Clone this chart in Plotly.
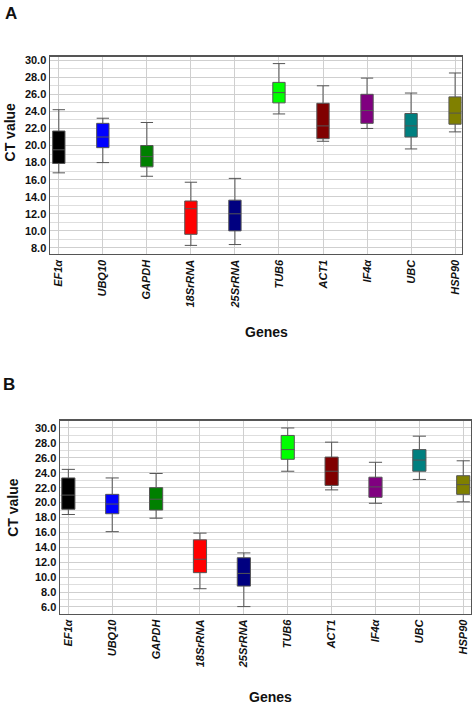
import plotly.graph_objects as go

genes = ["EF1α", "UBQ10", "GAPDH", "18SrRNA", "25SrRNA", "TUB6", "ACT1", "IF4α", "UBC", "HSP90"]
colors = ["#000000", "#0000FF", "#008000", "#FF0000", "#000080",
          "#00FF00", "#800000", "#800080", "#008080", "#808000"]

# Panel A
a_low = [16.8, 18.0, 16.4, 8.3, 8.4, 23.7, 20.5, 22.0, 19.6, 21.6]
a_q1 = [17.9, 19.75, 17.5, 9.6, 10.0, 25.0, 20.8, 22.6, 21.0, 22.5]
a_med = [19.5, 21.0, 18.7, 12.6, 12.0, 26.2, 22.3, 24.1, 22.3, 23.8]
a_q3 = [21.7, 22.6, 20.0, 13.5, 13.6, 27.4, 24.95, 26.0, 23.75, 25.7]
a_high = [24.2, 23.2, 22.7, 15.7, 16.15, 29.6, 27.0, 27.9, 26.15, 28.5]

# Panel B
b_low = [18.4, 16.1, 17.9, 8.45, 6.05, 24.2, 21.7, 19.9, 23.1, 20.1]
b_q1 = [19.1, 18.5, 19.0, 10.6, 8.8, 25.8, 22.3, 20.7, 24.2, 21.1]
b_med = [21.0, 19.8, 20.45, 12.4, 10.5, 27.1, 24.2, 22.1, 25.7, 22.4]
b_q3 = [23.3, 21.1, 22.0, 15.0, 12.6, 29.0, 26.1, 23.4, 27.1, 23.6]
b_high = [24.45, 23.3, 23.9, 15.9, 13.25, 30.0, 28.1, 25.4, 28.9, 25.6]

FONT = "Liberation Sans, Arial, sans-serif"
fig = go.Figure()

def add_panel(low, q1, med, q3, high, xa, ya, width):
    for g, c, lo, a, m, b, hi in zip(genes, colors, low, q1, med, q3, high):
        fig.add_trace(go.Box(
            x=[g], q1=[a], median=[m], q3=[b], lowerfence=[lo], upperfence=[hi],
            fillcolor=c, line=dict(color="#555555", width=1), width=width,
            whiskerwidth=1, boxpoints=False, showlegend=False,
            xaxis=xa, yaxis=ya, hoverinfo="skip"))

add_panel(a_low, a_q1, a_med, a_q3, a_high, "x", "y", 0.28)
add_panel(b_low, b_q1, b_med, b_q3, b_high, "x2", "y2", 0.30)

W, H = 474, 706

def fx(x):
    return x / W

def fy(y):
    return 1 - y / H

def xax(domain, rng):
    return dict(domain=domain, range=rng, type="category",
                categoryorder="array", categoryarray=genes,
                showgrid=True, gridcolor="#cfcfcf", gridwidth=1,
                showline=True, linecolor="#555555", linewidth=1.5, mirror=True,
                ticks="", tickangle=-90,
                tickfont=dict(family=FONT, size=11, color="#111", weight="bold", style="italic"),
                zeroline=False)

def yax(domain, rng):
    return dict(domain=domain, range=rng, dtick=2, tick0=0, tickformat=".1f",
                showgrid=True, gridcolor="#cfcfcf", gridwidth=1,
                minor=dict(dtick=1, showgrid=True, gridcolor="#dedede", gridwidth=1),
                showline=True, linecolor="#555555", linewidth=1.5, mirror=True,
                ticks="", tickfont=dict(family=FONT, size=11, color="#111", weight="bold"),
                zeroline=False)

fig.update_layout(
    width=W, height=H,
    margin=dict(l=0, r=0, t=0, b=0),
    paper_bgcolor="white", plot_bgcolor="white",
    boxmode="overlay",
    xaxis=xax([fx(50), fx(461.7)], [-0.2, 9.15]),
    yaxis=yax([fy(252), fy(54)], [7.3, 30.4]),
    xaxis2=xax([fx(60), fx(470.7)], [-0.19, 9.17]),
    yaxis2=yax([fy(613.3), fy(419.3)], [5.1, 31.0]),
)
fig.layout.xaxis2.anchor = "y2"
fig.layout.yaxis2.anchor = "x2"

ann = [
    dict(text="<b>A</b>", x=fx(3), y=fy(11), size=17, xanchor="left", angle=0),
    dict(text="<b>B</b>", x=fx(1), y=fy(383), size=17, xanchor="left", angle=0),
    dict(text="<b>CT value</b>", x=fx(10), y=fy(130), size=14, xanchor="center", angle=-90),
    dict(text="<b>CT value</b>", x=fx(13), y=fy(507), size=14, xanchor="center", angle=-90),
    dict(text="<b>Genes</b>", x=fx(266), y=fy(330), size=14, xanchor="center", angle=0),
    dict(text="<b>Genes</b>", x=fx(270), y=fy(697), size=14, xanchor="center", angle=0),
]
for a in ann:
    fig.add_annotation(text=a["text"], x=a["x"], y=a["y"], xref="paper", yref="paper",
                       showarrow=False, xanchor=a["xanchor"], yanchor="middle",
                       textangle=a["angle"],
                       font=dict(family=FONT, size=a["size"], color="#111"))

fig.write_html(
    "out.html",
    config={"displayModeBar": False, "staticPlot": True},
    post_script="document.body.style.margin='0';document.body.style.overflow='hidden';",
)
